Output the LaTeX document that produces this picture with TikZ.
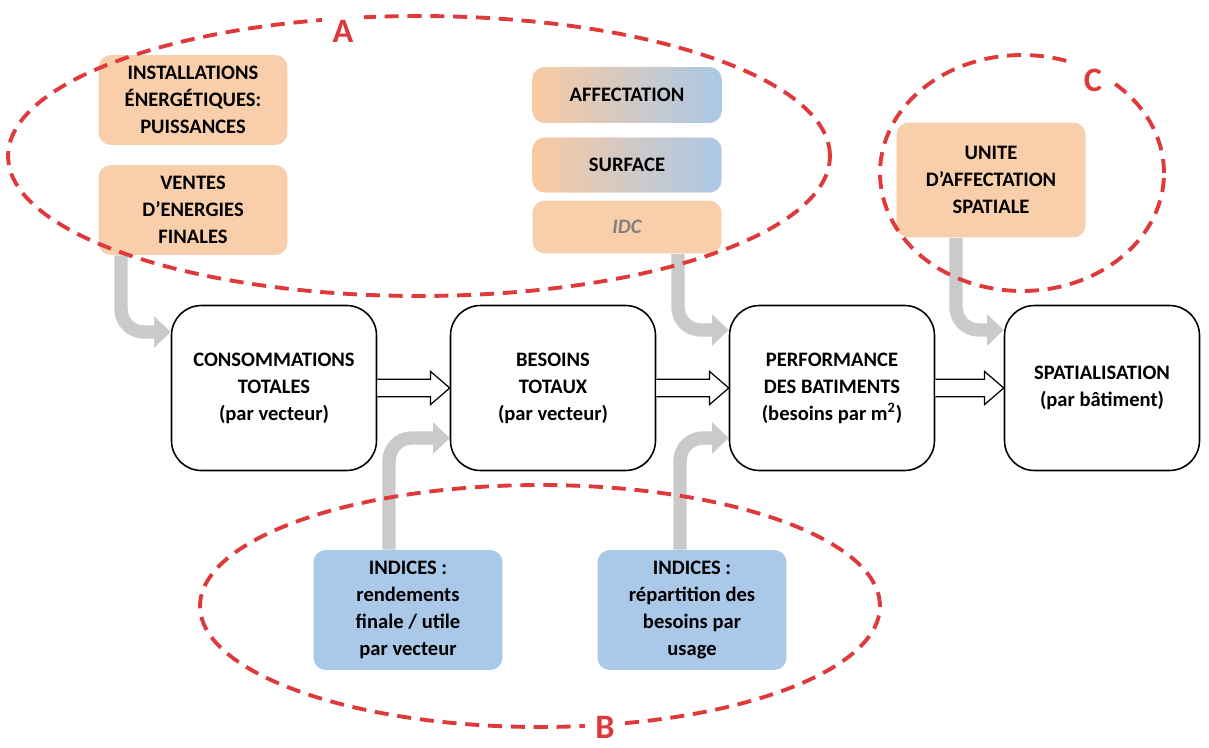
\documentclass[tikz,border=0pt]{standalone}
\usepackage{fontspec}
\setmainfont{Carlito}
\usepackage{xcolor}
\usetikzlibrary{arrows.meta}
\definecolor{peach}{RGB}{249,206,170}
\definecolor{skyblue}{RGB}{170,200,232}
\definecolor{dashred}{RGB}{222,58,60}
\definecolor{arrowgray}{RGB}{202,202,202}
\tikzset{
  boxtext/.style={align=center, font=\bfseries\fontsize{11.7}{15.3}\selectfont},
  inbox/.style={boxtext, fill=peach, rounded corners=7pt, minimum width=3.78cm},
  mixbox/.style={inbox, left color=peach!95!orange, right color=skyblue},
  idxbox/.style={boxtext, fill=skyblue, rounded corners=7pt, minimum width=3.78cm, minimum height=2.4cm},
  stagebox/.style={boxtext, draw, line width=0.9pt, rounded corners=17pt, minimum width=4.1cm, minimum height=3.3cm},
  hollow/.style={draw=black, fill=white, line width=0.7pt, line join=miter},
  bent/.style={arrowgray, line width=7.6pt, rounded corners=13pt, -{Triangle[length=9.5pt,width=17.5pt]}},
  groupline/.style={dashred, line width=2.2pt, dash pattern=on 8pt off 5pt},
  grplabel/.style={fill=white, text=dashred, inner sep=6pt, font=\bfseries\fontsize{19.5}{20}\selectfont}
}
\begin{document}
\begin{tikzpicture}[x=0.02cm, y=-0.02cm]
  \useasboundingbox[fill=white] (0,0) rectangle (1209,747);
  \node[inbox, minimum height=1.8cm] (inst) at (193,100) {INSTALLATIONS\\ÉNERGÉTIQUES:\\PUISSANCES};
  \node[inbox, minimum height=1.8cm] (ventes) at (193,210) {VENTES\\D’ENERGIES\\FINALES};
  \node[mixbox, minimum height=1.12cm] (affect) at (627,95) {AFFECTATION};
  \node[mixbox, minimum height=1.1cm] (surf) at (627,165) {SURFACE};
  \node[inbox, minimum height=1.06cm, text=black!50, font=\bfseries\itshape\fontsize{11.7}{15.3}\selectfont] (idc) at (627,227) {IDC};
  \node[inbox, minimum height=2.3cm] (unite) at (991,180) {UNITE\\D’AFFECTATION\\SPATIALE};
  \node[stagebox] (cons) at (274,388) {CONSOMMATIONS\\TOTALES\\(par vecteur)};
  \node[stagebox] (bes) at (553,388) {BESOINS\\TOTAUX\\(par vecteur)};
  \node[stagebox] (perf) at (832,388) {PERFORMANCE\\DES BATIMENTS\\(besoins par m\textsuperscript{2})};
  \node[stagebox, minimum width=3.9cm] (spat) at (1102,388) {SPATIALISATION\\(par bâtiment)};
  \node[idxbox] (rend) at (408,610) {INDICES :\\rendements\\finale / utile\\par vecteur};
  \node[idxbox] (rep) at (692,610) {INDICES :\\répartition des\\besoins par\\usage};
  \foreach \a/\b in {cons/bes, bes/perf, perf/spat}
    \draw[hollow] ([yshift=5pt]\a.east) -- ([xshift=-11pt,yshift=5pt]\b.west) -- ([xshift=-11pt,yshift=9.5pt]\b.west)
      -- (\b.west) -- ([xshift=-11pt,yshift=-9.5pt]\b.west) -- ([xshift=-11pt,yshift=-5pt]\b.west) -- ([yshift=-5pt]\a.east);
  \draw[bent] ([xshift=-1.44cm]ventes.south) |- ([yshift=1.12cm]cons.west);
  \draw[bent] ([xshift=1.02cm]idc.south) |- ([yshift=1.16cm]perf.west);
  \draw[bent] ([xshift=-0.7cm]unite.south) |- ([yshift=1.16cm]spat.west);
  \draw[bent] ([xshift=-0.38cm]rend.north) |- ([yshift=-1cm]bes.west);
  \draw[bent] ([xshift=-0.24cm]rep.north) |- ([yshift=-1cm]perf.west);
  \draw[groupline] (419,156) ellipse [x radius=8.22cm, y radius=2.8cm];
  \draw[groupline] (540,606) ellipse [x radius=6.8cm, y radius=2.42cm];
  \draw[groupline] (1022,173) ellipse [x radius=2.84cm, y radius=2.36cm];
  \node[grplabel] (labA) at (343,31) {A};
  \node[grplabel] (labB) at (605,727) {B};
  \node[grplabel] (labC) at (1093,80) {C};
\end{tikzpicture}
\end{document}
